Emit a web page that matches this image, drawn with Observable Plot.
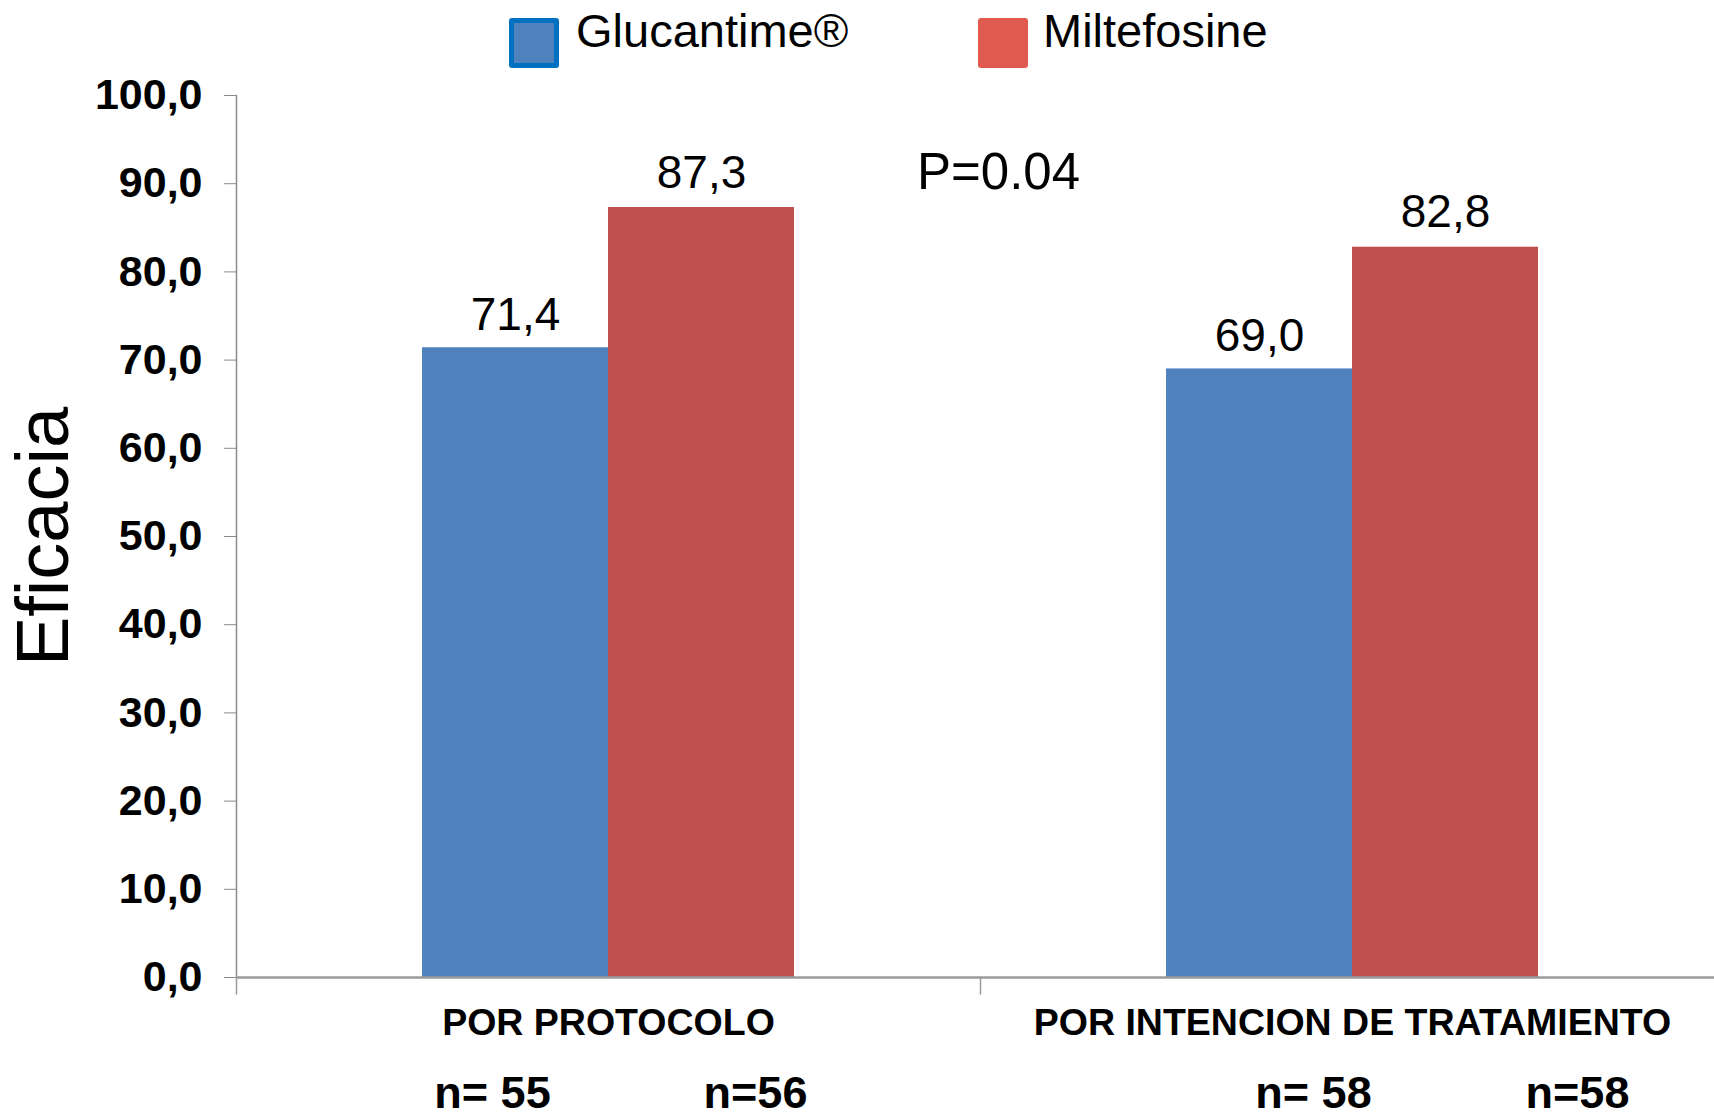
<!DOCTYPE html>
<html>
<head>
<meta charset="utf-8">
<script src="https://cdn.jsdelivr.net/npm/d3@7"></script>
<script src="https://cdn.jsdelivr.net/npm/@observablehq/plot@0.6"></script>
<style>
  html, body { margin: 0; padding: 0; background: #fff; overflow: hidden; }
  body { font-family: "Liberation Sans", Arial, sans-serif; }
  #legend { position: relative; width: 1714px; height: 70px; }
  .sw { position: absolute; top: 18px; width: 50px; height: 50px; box-sizing: border-box; border-radius: 3px; }
  .lt { position: absolute; top: 8px; font-size: 47px; line-height: 46px; color: #000; white-space: nowrap; }
</style>
</head>
<body>
<div id="legend"></div>
<div id="chart"></div>
<script>
// ---- data ----
const categories = ["POR PROTOCOLO", "POR INTENCION DE TRATAMIENTO"];
const series = ["Glucantime®", "Miltefosine"];
const glucantime = [71.4, 69.0];
const miltefosine = [87.3, 82.8];
const nGlucantime = ["n= 55", "n= 58"];
const nMiltefosine = ["n=56", "n=58"];
const yTicks = [0, 10, 20, 30, 40, 50, 60, 70, 80, 90, 100];
const yLabel = "Eficacia";
const pValue = "P=0.04";

// ---- styling ----
const barColors = ["#4F81BD", "#C0504D"];
const legendFill = ["#4F81BD", "#E15A4F"];
const font = "'Liberation Sans', Arial, sans-serif";

// legend (HTML, above the SVG)
const legend = document.getElementById("legend");
const legendPos = [{sw: 509, tx: 576}, {sw: 978, tx: 1043}];
series.forEach((s, i) => {
  const sw = document.createElement("div");
  sw.className = "sw";
  sw.style.left = legendPos[i].sw + "px";
  sw.style.background = legendFill[i];
  if (i === 0) sw.style.border = "5px solid #0070C0";
  legend.appendChild(sw);
  const t = document.createElement("div");
  t.className = "lt";
  t.style.left = legendPos[i].tx + "px";
  t.textContent = s;
  legend.appendChild(t);
});

const gData = categories.map((c, i) => ({category: c, value: glucantime[i], n: nGlucantime[i]}));
const mData = categories.map((c, i) => ({category: c, value: miltefosine[i], n: nMiltefosine[i]}));

const width = 1714, height = 1045;
const marginLeft = 236, marginRight = -10, marginTop = 25, marginBottom = 138;
const band = (width - marginLeft - marginRight) / categories.length;
const fmt = v => v.toFixed(1).replace(".", ",");

const nDx = [[-116, 147], [-39, 225]];
const nMarks = [];
categories.forEach((c, i) => {
  nMarks.push(Plot.text([gData[i]], {x: "category", y: 0, text: "n", dy: 116, dx: nDx[i][0], lineAnchor: "middle", fontSize: 45, fontWeight: "bold", fill: "#000"}));
  nMarks.push(Plot.text([mData[i]], {x: "category", y: 0, text: "n", dy: 116, dx: nDx[i][1], lineAnchor: "middle", fontSize: 45, fontWeight: "bold", fill: "#000"}));
});

const chart = Plot.plot({
  width, height, marginLeft, marginRight, marginTop, marginBottom,
  style: {fontFamily: font, background: "#fff", overflow: "visible"},
  x: {domain: categories, padding: 0, axis: null},
  y: {domain: [0, 100], axis: null},
  marks: [
    Plot.barY(gData, {x: "category", y: "value", fill: barColors[0], insetLeft: band * 0.25, insetRight: band * 0.5}),
    Plot.barY(mData, {x: "category", y: "value", fill: barColors[1], insetLeft: band * 0.5, insetRight: band * 0.25}),
    Plot.text(gData, {x: "category", y: "value", text: d => fmt(d.value), dx: -band / 8, dy: -18, lineAnchor: "bottom", fontSize: 46, fill: "#000"}),
    Plot.text(mData, {x: "category", y: "value", text: d => fmt(d.value), dx: band / 8, dy: -20, lineAnchor: "bottom", fontSize: 46, fill: "#000"}),
    Plot.frame({anchor: "left", stroke: "#8a8a8a", strokeWidth: 1.5}),
    Plot.axisY({ticks: yTicks, tickFormat: fmt, label: null, tickSize: 12, tickPadding: 22, fontSize: 43, fontWeight: "bold", stroke: "#8a8a8a", fill: "#000"}),
    Plot.ruleY([0], {stroke: "#9a9a9a", strokeWidth: 2.5}),
    Plot.ruleX(categories, {x: d => d, dx: -band / 2, y1: 0, y2: -2, stroke: "#9a9a9a", strokeWidth: 1.5}),
    Plot.text(categories, {x: d => d, y: 0, dy: 45, lineAnchor: "middle", fontSize: 37.5, fontWeight: "bold", fill: "#000"}),
    ...nMarks,
    Plot.text([pValue], {frameAnchor: "top", dx: 18, dy: 77, lineAnchor: "middle", fontSize: 51, fill: "#000"}),
    Plot.text([yLabel], {frameAnchor: "left", textAnchor: "middle", rotate: -90, dx: -192, lineAnchor: "middle", fontSize: 74, fill: "#000"})
  ]
});
document.getElementById("chart").appendChild(chart);
</script>
</body>
</html>
